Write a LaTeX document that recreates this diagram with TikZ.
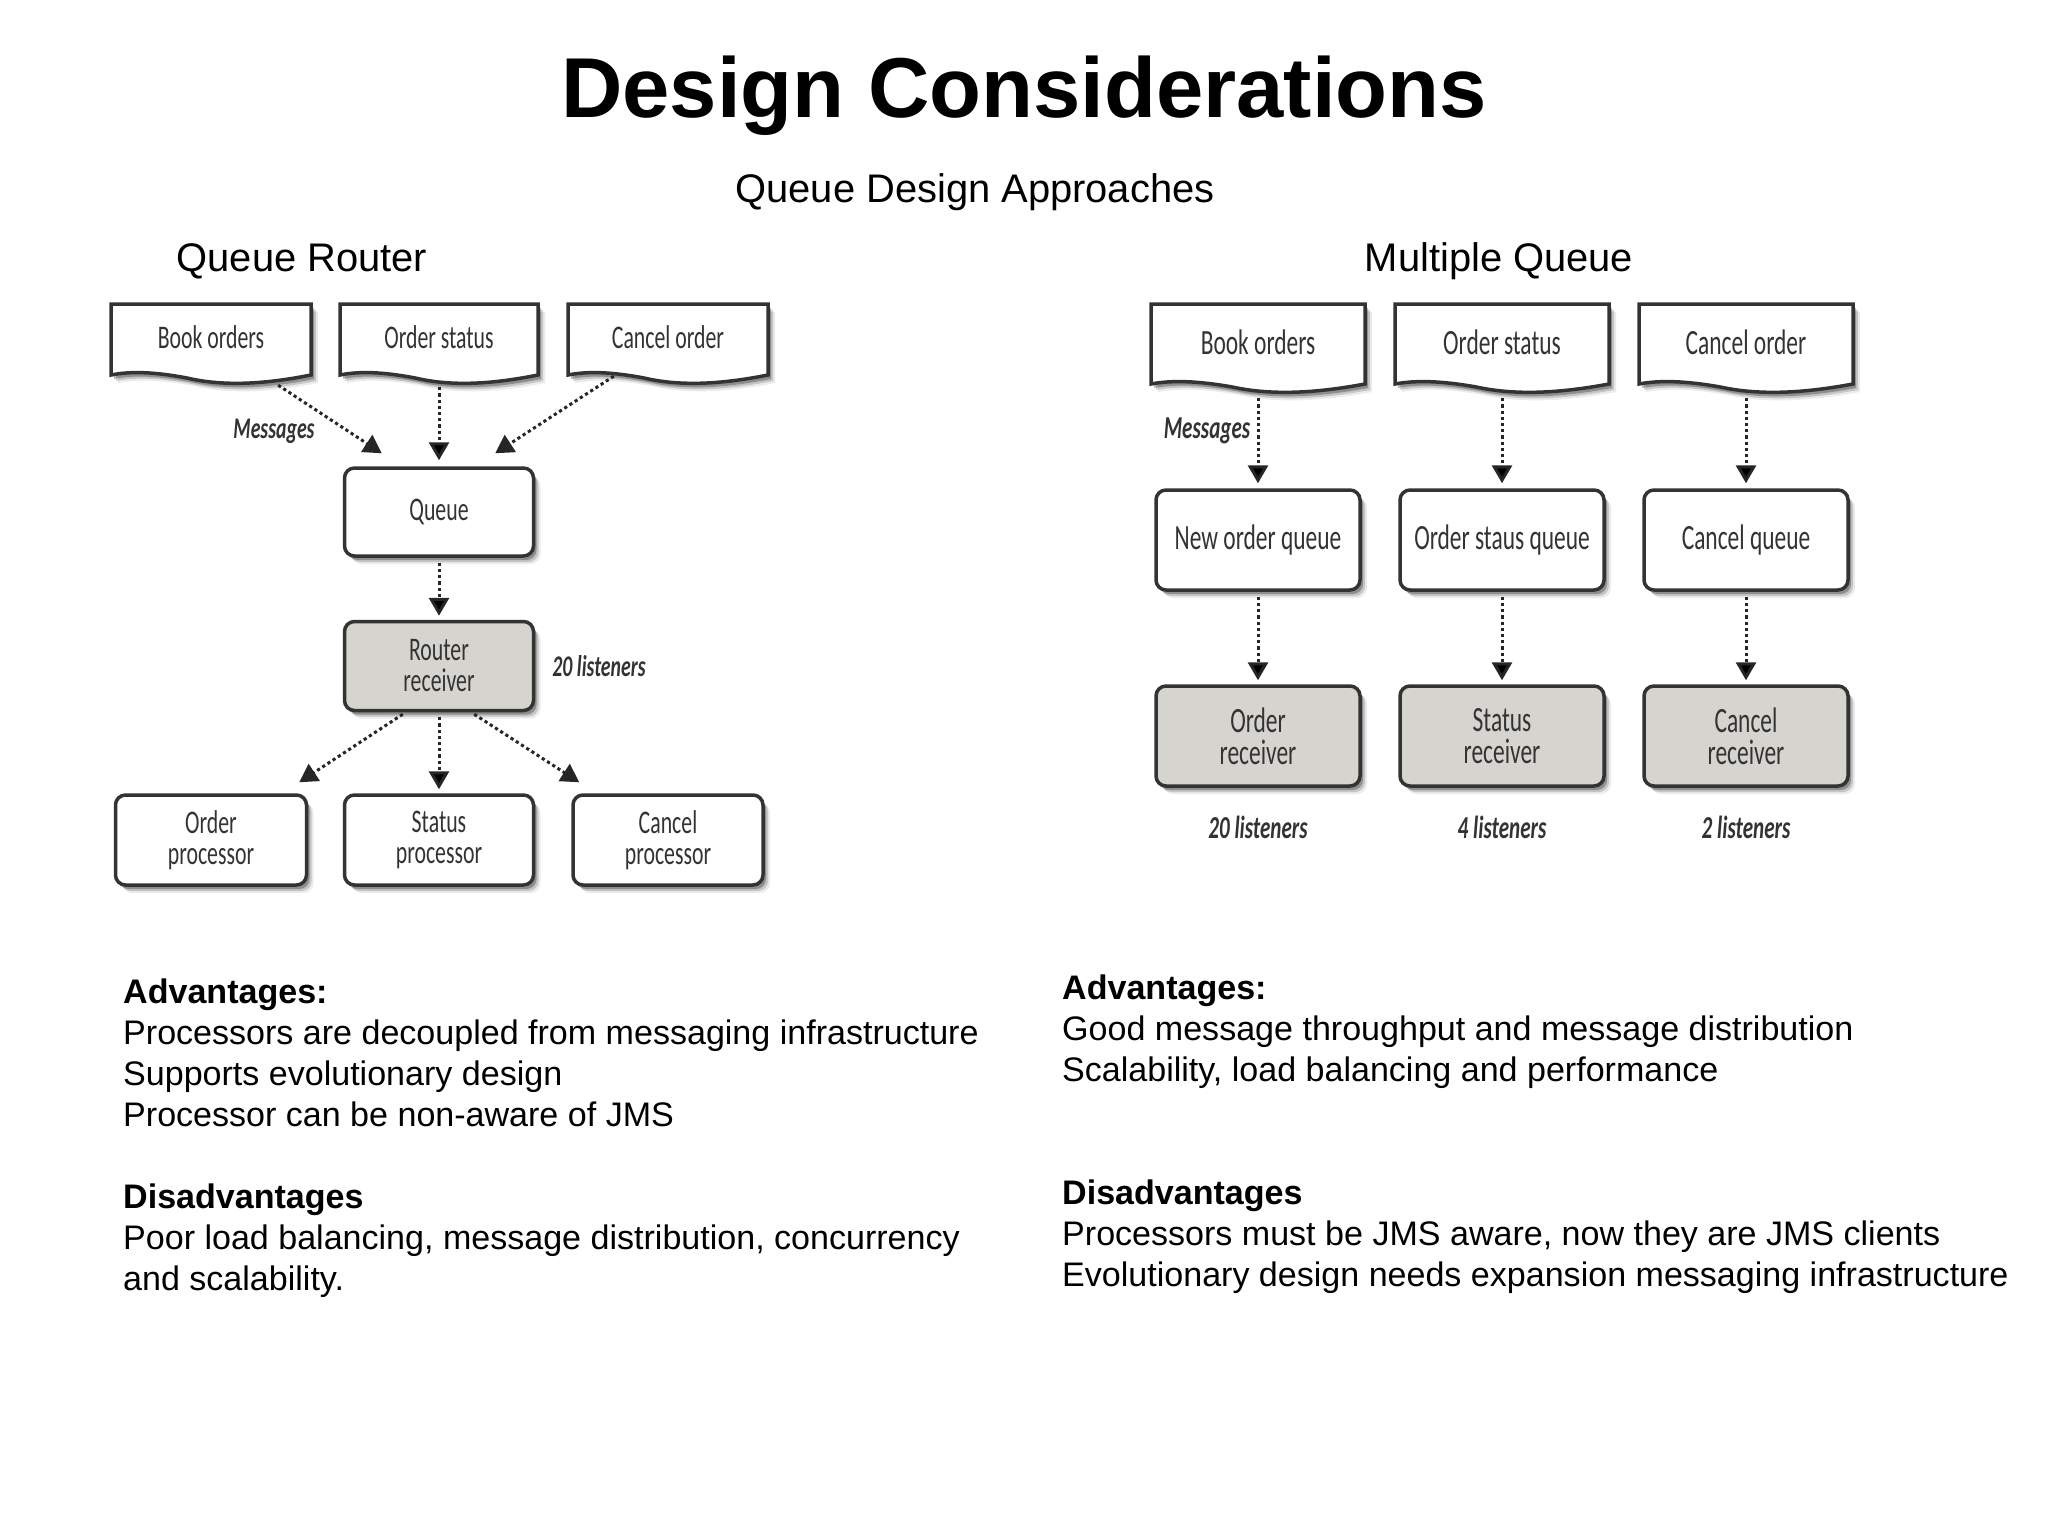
\documentclass[tikz,border=0pt]{standalone}
\usepackage{amsmath}
\usepackage{fontspec}
\setmainfont{Liberation Sans}
\newfontfamily\figfont[FakeStretch=0.66]{Carlito}
\usetikzlibrary{arrows.meta,shadows}

% document shape with a wavy bottom: left, right, top, bottom of the straight part
\newcommand{\docshape}[4]{
  \draw[docline] (#1,#3) -- (#2,#3) -- (#2,#4)
    .. controls ({#2-0.25*(#2-#1)},#4+10) and ({#2-0.45*(#2-#1)},#4+11) .. ({#2-0.62*(#2-#1)},#4+3)
    .. controls ({#2-0.78*(#2-#1)},#4-3) and ({#2-0.9*(#2-#1)},#4-4) .. (#1,#4) -- cycle;
}

\begin{document}
\begin{tikzpicture}[x=1pt,y=-1pt,>={Triangle[length=18pt,width=20pt]}]
      \tikzstyle{softshadow}=[drop shadow={shadow xshift=7pt,shadow yshift=-8pt,fill=black,opacity=0.08},
                              drop shadow={shadow xshift=5pt,shadow yshift=-6pt,fill=black,opacity=0.16},
                              drop shadow={shadow xshift=3pt,shadow yshift=-4pt,fill=black,opacity=0.28}];
      \tikzstyle{docline}=[draw=black!80,line width=3.5pt,fill=white,softshadow];
      \tikzstyle{doc}=[inner sep=0pt,font=\figfont\fontsize{33}{33}\selectfont,text=black!80];
      \tikzstyle{doctall}=[doc,font=\figfont\fontsize{35.5}{35}\selectfont];
      \tikzstyle{box}=[draw=black!80,line width=3.5pt,rounded corners=10pt,fill=white,softshadow,
                       inner sep=0pt,align=center,font=\figfont\fontsize{33}{31}\selectfont,text=black!80];
      \tikzstyle{boxtall}=[box,font=\figfont\fontsize{35.5}{32}\selectfont];
      \tikzstyle{recv}=[box,fill=recvgray];
      \tikzstyle{recvtall}=[boxtall,fill=recvgray];
      \tikzstyle{note}=[inner sep=0pt,font=\figfont\fontsize{30}{30}\selectfont\bfseries\itshape,text=black!80];
      \tikzstyle{noteb}=[note,font=\figfont\fontsize{32}{32}\selectfont\bfseries\itshape];
      \tikzstyle{flow}=[->,draw=black!85,line width=3pt,dash pattern=on 3.2pt off 3pt];
      \tikzstyle{head}=[inner sep=0pt,font=\fontsize{39.9}{44}\selectfont];
      \tikzstyle{body}=[inner sep=0pt,anchor=north west,align=left,font=\fontsize{34.05}{41}\selectfont];
      \definecolor{recvgray}{HTML}{D6D4CF}

      \useasboundingbox (0,0) rectangle (2048,1536);

      % titles
      \node[inner sep=0pt,font=\fontsize{85}{90}\selectfont\bfseries](Title) at (1024,96) {Design Considerations};
      \node[head](Approaches) at (975,192) {Queue Design Approaches};
      \node[head](RouterHead) at (302,261) {Queue Router};
      \node[head](MultiHead) at (1499,261) {Multiple Queue};

      % queue router
      \docshape{111}{311}{304}{375}
      \docshape{340}{538}{304}{375}
      \docshape{568}{768}{304}{375}
      \node[doc,minimum width=200pt,minimum height=66pt](Book) at (211,337) {Book orders};
      \node[doc,minimum width=198pt,minimum height=66pt](Status) at (439,337) {Order status};
      \node[doc,minimum width=200pt,minimum height=66pt](Cancel) at (668,337) {Cancel order};

      \node[box,minimum width=189pt,minimum height=88pt](Queue) at (439,512) {Queue};
      \node[recv,minimum width=189pt,minimum height=89pt](Router) at (439,666) {Router\\receiver};
      \node[box,minimum width=191pt,minimum height=90pt](OrderProc) at (211,840) {Order\\processor};
      \node[box,minimum width=189pt,minimum height=90pt](StatusProc) at (439,840) {Status\\processor};
      \node[box,minimum width=190pt,minimum height=90pt](CancelProc) at (668,840) {Cancel\\processor};

      \node[note](RouterMsg) at (274,431) {Messages};
      \node[note](RouterListen) at (599,666) {20 listeners};

      \draw[flow] ([xshift=-33pt,yshift=-15pt]Book.south east) -- ([xshift=39pt,yshift=13pt]Queue.north west);
      \path[flow,shorten <=17pt,shorten >=6pt] (Status) edge (Queue);
      \draw[flow] ([xshift=46pt,yshift=-6pt]Cancel.south west) -- ([xshift=-40pt,yshift=13pt]Queue.north east);
      \path[flow,shorten <=5pt,shorten >=4pt] (Queue) edge (Router);
      \draw[flow] ([xshift=60pt,yshift=-2pt]Router.south west) -- ([xshift=-9pt,yshift=11pt]OrderProc.north east);
      \path[flow,shorten <=5pt,shorten >=4pt] (Router) edge (StatusProc);
      \draw[flow] ([xshift=-61pt,yshift=-2pt]Router.south east) -- ([xshift=8pt,yshift=11pt]CancelProc.north west);

      % multiple queue
      \docshape{1151}{1365}{304}{384}
      \docshape{1395}{1609}{304}{384}
      \docshape{1639}{1853}{304}{384}
      \node[doctall,minimum width=214pt,minimum height=76pt](Book2) at (1258,342) {Book orders};
      \node[doctall,minimum width=214pt,minimum height=76pt](Status2) at (1502,342) {Order status};
      \node[doctall,minimum width=214pt,minimum height=76pt](Cancel2) at (1746,342) {Cancel order};

      \node[boxtall,minimum width=204pt,minimum height=100pt](NewQ) at (1258,540) {New order queue};
      \node[boxtall,minimum width=204pt,minimum height=100pt](StatusQ) at (1502,540) {Order staus queue};
      \node[boxtall,minimum width=204pt,minimum height=100pt](CancelQ) at (1746,540) {Cancel queue};
      \node[recvtall,minimum width=204pt,minimum height=100pt](OrderRecv) at (1258,736) {Order\\receiver};
      \node[recvtall,minimum width=204pt,minimum height=100pt](StatusRecv) at (1502,736) {Status\\receiver};
      \node[recvtall,minimum width=204pt,minimum height=100pt](CancelRecv) at (1746,736) {Cancel\\receiver};

      \node[noteb](MultiMsg) at (1207,431) {Messages};
      \node[noteb](Listen20) at (1258,827) {20 listeners};
      \node[noteb](Listen4) at (1502,827) {4 listeners};
      \node[noteb](Listen2) at (1746,827) {2 listeners};

      \path[flow,shorten <=18pt,shorten >=5pt] (Book2) edge (NewQ);
      \path[flow,shorten <=18pt,shorten >=5pt] (Status2) edge (StatusQ);
      \path[flow,shorten <=18pt,shorten >=5pt] (Cancel2) edge (CancelQ);
      \path[flow,shorten <=5pt,shorten >=4pt] (NewQ) edge (OrderRecv);
      \path[flow,shorten <=5pt,shorten >=4pt] (StatusQ) edge (StatusRecv);
      \path[flow,shorten <=5pt,shorten >=4pt] (CancelQ) edge (CancelRecv);

      % notes below the figures
      \node[body](RouterPro) at (123,978.5) {\textbf{Advantages:}\\Processors are decoupled from messaging infrastructure\\Supports evolutionary design\\Processor can be non-aware of JMS};
      \node[body](RouterCon) at (123,1183.5) {\textbf{Disadvantages}\\Poor load balancing, message distribution, concurrency\\and scalability.};
      \node[body](MultiPro) at (1062,974.5) {\textbf{Advantages:}\\Good message throughput and message distribution\\Scalability, load balancing and performance};
      \node[body](MultiCon) at (1062,1179.5) {\textbf{Disadvantages}\\Processors must be JMS aware, now they are JMS clients\\Evolutionary design needs expansion messaging infrastructure};

    \end{tikzpicture}
\end{document}
